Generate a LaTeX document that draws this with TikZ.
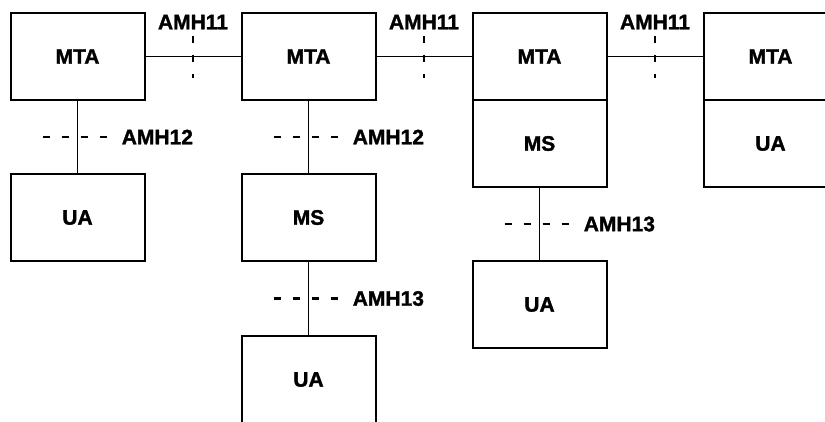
\documentclass[tikz,border=0pt]{standalone}
\usepackage{fontspec}
\setmainfont[BoldFeatures={FakeBold=1.5}]{Liberation Sans}
\usetikzlibrary{positioning}

\begin{document}
\begin{tikzpicture}[
  font=\fontsize{21}{25}\selectfont\bfseries,
  node distance=74pt and 97pt,
  box/.style={draw, line width=2pt, minimum width=134pt, minimum height=87pt, inner sep=0pt, outer sep=0pt},
  conn/.style={line width=1.2pt},
  iface/.style={line width=2.6pt, dash pattern=on 7pt off 12pt},
  lbl/.style={inner sep=0pt}
]
\useasboundingbox (0,0) rectangle (825pt,-421pt);
\clip (0,0) rectangle (825pt,-421pt);
\node[box] (mta1) at (77.5pt,-56.5pt) {MTA};
\node[box, right=of mta1] (mta2) {MTA};
\node[box, right=of mta2] (mta3) {MTA};
\node[box, right=of mta3] (mta4) {MTA};
\node[box, below=of mta1] (ua1) {UA};
\node[box, below=of mta2] (ms2) {MS};
\node[box, below=75pt of ms2] (ua2) {UA};
\node[box, below=0pt of mta3] (ms3) {MS};
\node[box, below=of ms3] (ua3) {UA};
\node[box, below=0pt of mta4] (ua4) {UA};
% links between MTAs
\draw[conn] (mta1) -- coordinate[midway] (h12) (mta2);
\draw[conn] (mta2) -- coordinate[midway] (h23) (mta3);
\draw[conn] (mta3) -- coordinate[midway] (h34) (mta4);
% links down the columns
\draw[conn] (mta1) -- coordinate[midway] (v1) (ua1);
\draw[conn] (mta2) -- coordinate[midway] (v2) (ms2);
\draw[conn] (ms2) -- coordinate[midway] (v3) (ua2);
\draw[conn] (ms3) -- coordinate[midway] (v4) (ua3);
% interface marks
\draw[iface] ([yshift=21pt]h12) -- ([yshift=-21pt]h12);
\draw[iface] ([yshift=21pt]h23) -- ([yshift=-21pt]h23);
\draw[iface] ([yshift=21pt]h34) -- ([yshift=-21pt]h34);
\node[lbl, above=6pt] (l12) at ([yshift=21pt]h12) {AMH11};
\node[lbl, above=6pt] (l23) at ([yshift=21pt]h23) {AMH11};
\node[lbl, above=6pt] (l34) at ([yshift=21pt]h34) {AMH11};
\draw[iface] ([xshift=-35pt]v1) -- ([xshift=29pt]v1) node[lbl, right=14pt] (lv1) {AMH12};
\draw[iface] ([xshift=-35pt]v2) -- ([xshift=29pt]v2) node[lbl, right=14pt] (lv2) {AMH12};
\draw[iface] ([xshift=-35pt]v3) -- ([xshift=29pt]v3) node[lbl, right=14pt] (lv3) {AMH13};
\draw[iface] ([xshift=-35pt]v4) -- ([xshift=29pt]v4) node[lbl, right=14pt] (lv4) {AMH13};
\end{tikzpicture}
\end{document}
